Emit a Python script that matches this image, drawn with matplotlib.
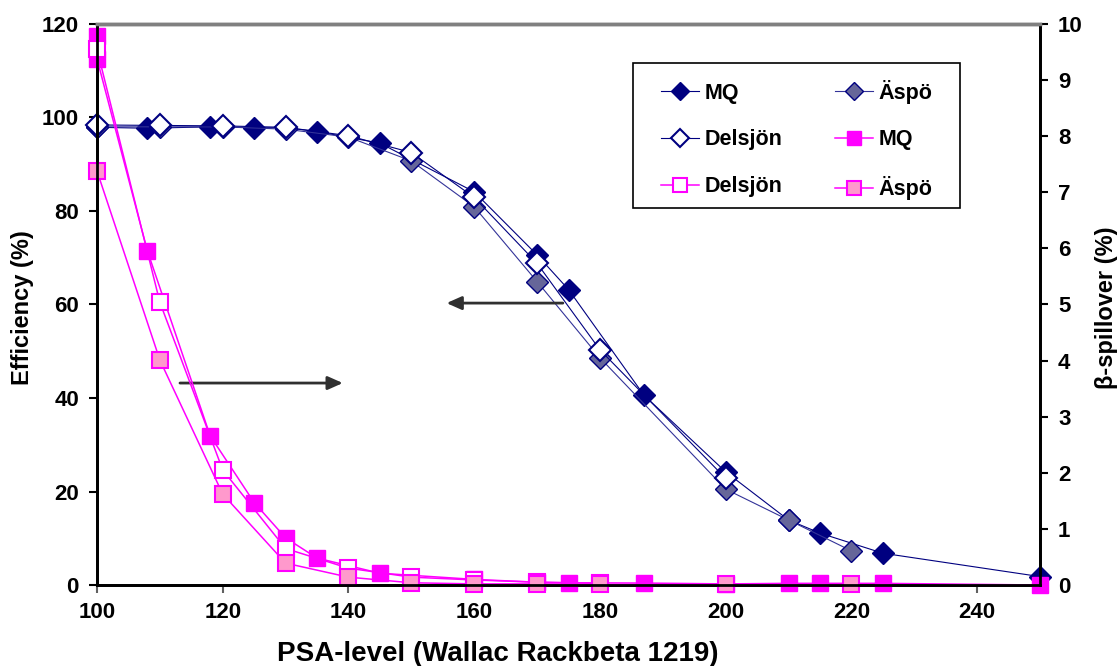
import matplotlib.pyplot as plt
from matplotlib.patches import Rectangle

plt.rcParams['font.family'] = ['Liberation Sans', 'DejaVu Sans']
plt.rcParams['font.weight'] = 'bold'

# efficiency (%), left axis
eff_mq_x = [100, 108, 118, 125, 130, 135, 145, 160, 170, 175, 187, 200, 210, 215, 225, 250]
eff_mq = [97.9, 97.7, 98.0, 97.8, 97.8, 97.0, 94.5, 84.1, 70.6, 63.2, 40.6, 24.2, 13.9, 11.1, 6.8, 1.8]
eff_aspo_x = [100, 110, 120, 130, 140, 150, 160, 170, 180, 200, 210, 220]
eff_aspo = [98.0, 98.0, 98.0, 97.5, 95.8, 90.7, 80.9, 64.9, 48.6, 20.5, 13.9, 7.3]
eff_del_x = [100, 110, 120, 130, 140, 150, 160, 170, 180, 200]
eff_del = [98.4, 98.3, 98.2, 97.9, 96.1, 92.5, 82.9, 68.8, 50.3, 22.8]

# beta-spillover (%), right axis
sp_mq_x = [100, 100, 108, 118, 125, 130, 135, 145, 160, 170, 175, 187, 200, 210, 215, 225, 250]
sp_mq = [9.78, 9.38, 5.96, 2.66, 1.47, 0.84, 0.48, 0.21, 0.10, 0.05, 0.04, 0.035, 0.02, 0.03, 0.03, 0.03, 0.0]
sp_del_x = [100, 110, 120, 130, 140, 150, 160, 170, 180]
sp_del = [9.55, 5.04, 2.05, 0.65, 0.30, 0.14, 0.09, 0.05, 0.03]
sp_aspo_x = [100, 110, 120, 130, 140, 150, 160, 170, 180, 200, 220]
sp_aspo = [7.38, 4.01, 1.62, 0.39, 0.14, 0.04, 0.02, 0.02, 0.01, 0.01, 0.01]

navy = '#000080'
slate = '#666699'
magenta = '#FF00FF'
pink = '#FF99CC'

fig = plt.figure(figsize=(11.2, 6.66), dpi=100)
ax = fig.add_axes([0.0866, 0.1216, 0.842, 0.8424])
ax2 = ax.twinx()

dia = dict(marker='D', ms=11, clip_on=False)
sq = dict(marker='s', ms=12, clip_on=False)

h1, = ax.plot(eff_mq_x, eff_mq, color=navy, lw=0.8, mfc=navy, mec=navy,
              mew=1, label='MQ', **dia)
h2, = ax.plot(eff_aspo_x, eff_aspo, color='#333399', lw=0.8, mfc=slate,
              mec=navy, mew=1, label='Äspö', **dia)
h3, = ax.plot(eff_del_x, eff_del, color=navy, lw=0.8, mfc='white', mec=navy,
              mew=1.5, label='Delsjön', **dia)

h4, = ax2.plot(sp_mq_x, sp_mq, color=magenta, lw=1.1, mfc=magenta,
               mec=magenta, mew=1, label='MQ', **sq)
h5, = ax2.plot(sp_del_x, sp_del, color=magenta, lw=1.1, mfc='white',
               mec=magenta, mew=1.5, label='Delsjön', **sq)
h6, = ax2.plot(sp_aspo_x, sp_aspo, color=magenta, lw=1.1, mfc=pink,
               mec=magenta, mew=1.5, label='Äspö', **sq)

ax.set_xlim(100, 250)
ax.set_ylim(0, 120)
ax2.set_ylim(0, 10)
ax.set_xticks(range(100, 260, 20))
ax.set_yticks(range(0, 140, 20))
ax2.set_yticks(range(0, 11))

for a in (ax, ax2):
    for s in a.spines.values():
        s.set_linewidth(2)
        s.set_color('black')
    a.spines['top'].set_color('#808080')
    a.spines['top'].set_linewidth(2.5)
    a.tick_params(labelsize=16, width=1.5, length=6, pad=7, direction='out')
ax.tick_params(axis='x', color='#606060', pad=6)

ax.set_xlabel('PSA-level (Wallac Rackbeta 1219)', fontsize=20, fontweight='bold')
ax.xaxis.set_label_coords(0.425, -0.1)
ax.set_ylabel('Efficiency (%)', fontsize=17, fontweight='bold')
ax.yaxis.set_label_coords(-0.067, 0.495)
ax2.set_ylabel('β-spillover (%)', fontsize=17, fontweight='bold')
ax2.yaxis.set_label_coords(1.058, 0.495)

# arrows pointing to the axis each group belongs to
arrow = dict(arrowstyle='-|>,head_length=0.9,head_width=0.4', color='#303030',
             lw=2, shrinkA=0, shrinkB=0)
ax.annotate('', xy=(155.6, 60.3), xytext=(174.1, 60.3), arrowprops=arrow)
ax.annotate('', xy=(139.1, 43.2), xytext=(113.2, 43.2), arrowprops=arrow)

# legend box drawn separately so the padding can differ per side
ax2.add_patch(Rectangle((0.5684, 0.672), 0.3468, 0.2585, transform=ax2.transAxes,
                        facecolor='white', edgecolor='black', lw=1.2, zorder=4))
handles = [h1, h3, h5, h2, h4, h6]
leg = ax2.legend(handles=handles, labels=[h.get_label() for h in handles],
                 ncol=2, loc='upper left', bbox_to_anchor=(0.598, 0.901),
                 fontsize=15.5, frameon=False, handlelength=1.77,
                 handletextpad=0.25, labelspacing=1.2, columnspacing=2.45,
                 borderpad=0, borderaxespad=0, markerscale=0.85)
leg.set_zorder(5)
for t in leg.get_texts():
    t.set_fontweight('bold')

fig.savefig('out.png', dpi=100)
